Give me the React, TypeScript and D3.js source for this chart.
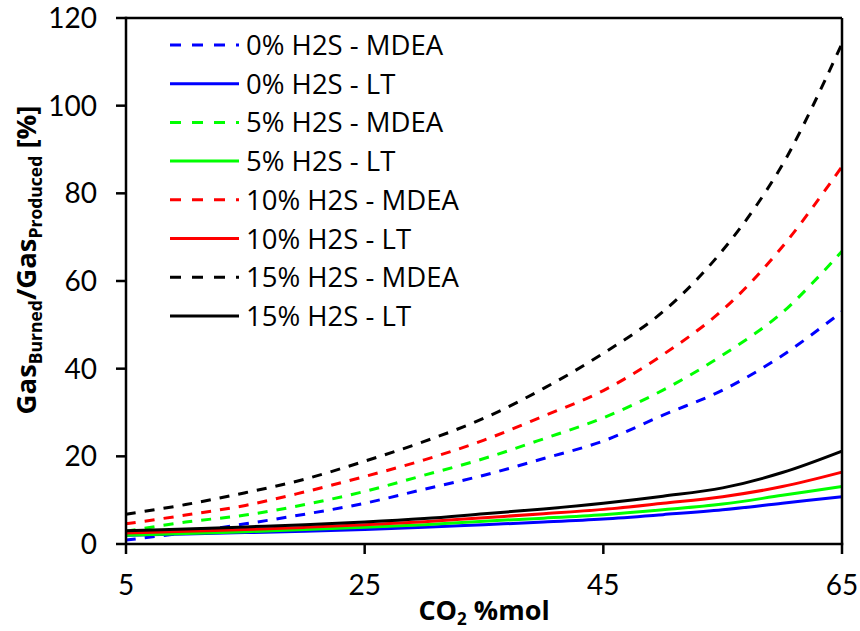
import React from "react";
import * as d3 from "d3";

const co2 = [5, 10, 15, 20, 25, 30, 35, 40, 45, 50, 55, 60, 65];
const mdea0 = [0.9, 2.6, 4.6, 6.8, 9.3, 12.5, 15.7, 19.5, 23.5, 29.4, 35.1, 43.0, 53.0];
const lt0 = [2.0, 2.3, 2.6, 2.9, 3.3, 3.8, 4.4, 5.0, 5.7, 6.7, 7.8, 9.3, 10.8];
const mdea5 = [2.9, 5.0, 6.6, 9.0, 12.0, 15.7, 19.5, 24.0, 28.8, 35.1, 43.1, 52.8, 66.8];
const lt5 = [2.0, 2.4, 2.8, 3.3, 3.8, 4.4, 5.2, 5.9, 6.7, 7.8, 9.1, 11.1, 13.1];
const mdea10 = [4.6, 6.6, 8.8, 11.9, 15.4, 19.2, 23.7, 29.2, 35.0, 43.2, 53.4, 67.8, 86.1];
const lt10 = [2.5, 2.9, 3.3, 3.8, 4.4, 5.1, 6.0, 6.9, 7.9, 9.3, 10.8, 13.1, 16.4];
const mdea15 = [6.8, 9.0, 11.7, 14.8, 18.9, 23.4, 28.7, 35.5, 43.5, 53.0, 67.0, 86.5, 114.2];
const lt15 = [3.0, 3.4, 3.9, 4.4, 5.0, 5.8, 6.9, 8.0, 9.3, 10.9, 12.8, 16.3, 21.2];

const seriesNames = [
  "0% H2S - MDEA",
  "0% H2S - LT",
  "5% H2S - MDEA",
  "5% H2S - LT",
  "10% H2S - MDEA",
  "10% H2S - LT",
  "15% H2S - MDEA",
  "15% H2S - LT",
];
const seriesValues = [mdea0, lt0, mdea5, lt5, mdea10, lt10, mdea15, lt15];
const seriesColors = ["#0000FF", "#0000FF", "#00FF00", "#00FF00", "#FF0000", "#FF0000", "#000000", "#000000"];
const seriesDashed = [true, false, true, false, true, false, true, false];

const xTicks = [5, 25, 45, 65];
const yTicks = [0, 20, 40, 60, 80, 100, 120];

const FONT = "'Open Sans', 'Noto Sans', sans-serif";
const TICK_FONT = "Lato, 'Open Sans', sans-serif";

export default function App() {
  const x = d3.scaleLinear().domain([5, 65]).range([126, 842]);
  const y = d3.scaleLinear().domain([0, 120]).range([544, 18]);
  const line = d3
    .line<[number, number]>()
    .x((d) => x(d[0]))
    .y((d) => y(d[1]))
    .curve(d3.curveCatmullRom.alpha(0.5));

  const legendX0 = 170;
  const legendX1 = 239;
  const legendY0 = 45;
  const legendStep = 38.7;

  return (
    <svg
      width={860}
      height={631}
      style={{ position: "absolute", left: 0, top: 0, background: "#fff" }}
      fontFamily={FONT}
    >
      <rect x={0} y={0} width={860} height={631} fill="#fff" />
      {/* series */}
      {seriesValues.map((vals, i) => (
        <path
          key={seriesNames[i]}
          d={line(co2.map((c, j) => [c, vals[j]] as [number, number])) || ""}
          fill="none"
          stroke={seriesColors[i]}
          strokeWidth={3}
          strokeDasharray={seriesDashed[i] ? "10,9" : undefined}
        />
      ))}
      {/* frame */}
      <line x1={x(5)} x2={x(65)} y1={y(120)} y2={y(120)} stroke="#000" strokeWidth={2.5} />
      <line x1={x(65)} x2={x(65)} y1={y(120)} y2={y(0)} stroke="#000" strokeWidth={2.5} />
      {/* axes */}
      <line x1={x(5)} x2={x(5)} y1={y(120) - 1.25} y2={y(0)} stroke="#000" strokeWidth={2.5} />
      <line x1={x(5)} x2={x(65) + 1.25} y1={y(0)} y2={y(0)} stroke="#000" strokeWidth={2.5} />
      {yTicks.map((t) => (
        <g key={"y" + t}>
          <line x1={x(5) - 10} x2={x(5)} y1={y(t)} y2={y(t)} stroke="#000" strokeWidth={2.5} />
          <text x={97} y={y(t) + 10} textAnchor="end" fontSize={28} fontFamily={TICK_FONT} fill="#000">
            {t}
          </text>
        </g>
      ))}
      {xTicks.map((t) => (
        <g key={"x" + t}>
          <line x1={x(t)} x2={x(t)} y1={y(0)} y2={y(0) + 10} stroke="#000" strokeWidth={2.5} />
          <text x={x(t)} y={595} textAnchor="middle" fontSize={28} fontFamily={TICK_FONT} fill="#000">
            {t}
          </text>
        </g>
      ))}
      {/* axis titles */}
      <text x={484} y={620} textAnchor="middle" fontSize={27} fontWeight="bold" fill="#000">
        CO
        <tspan fontSize={17} dy={5}>2</tspan>
        <tspan dy={-5}> %mol</tspan>
      </text>
      <text
        transform="rotate(-90)"
        x={-260}
        y={36}
        textAnchor="middle"
        fontSize={27.5}
        fontWeight="bold"
        fill="#000"
      >
        Gas
        <tspan fontSize={17.5} dy={6}>Burned</tspan>
        <tspan dy={-6}>/Gas</tspan>
        <tspan fontSize={17.5} dy={6}>Produced</tspan>
        <tspan dy={-6}> [%]</tspan>
      </text>
      {/* legend */}
      {seriesNames.map((name, i) => {
        const cy = legendY0 + i * legendStep;
        return (
          <g key={"leg" + i}>
            <line
              x1={legendX0}
              x2={legendX1}
              y1={cy}
              y2={cy}
              stroke={seriesColors[i]}
              strokeWidth={3}
              strokeDasharray={seriesDashed[i] ? "11,11" : undefined}
            />
            <text x={246} y={cy + 10} fontSize={27.5} fill="#000">
              {name}
            </text>
          </g>
        );
      })}
    </svg>
  );
}
